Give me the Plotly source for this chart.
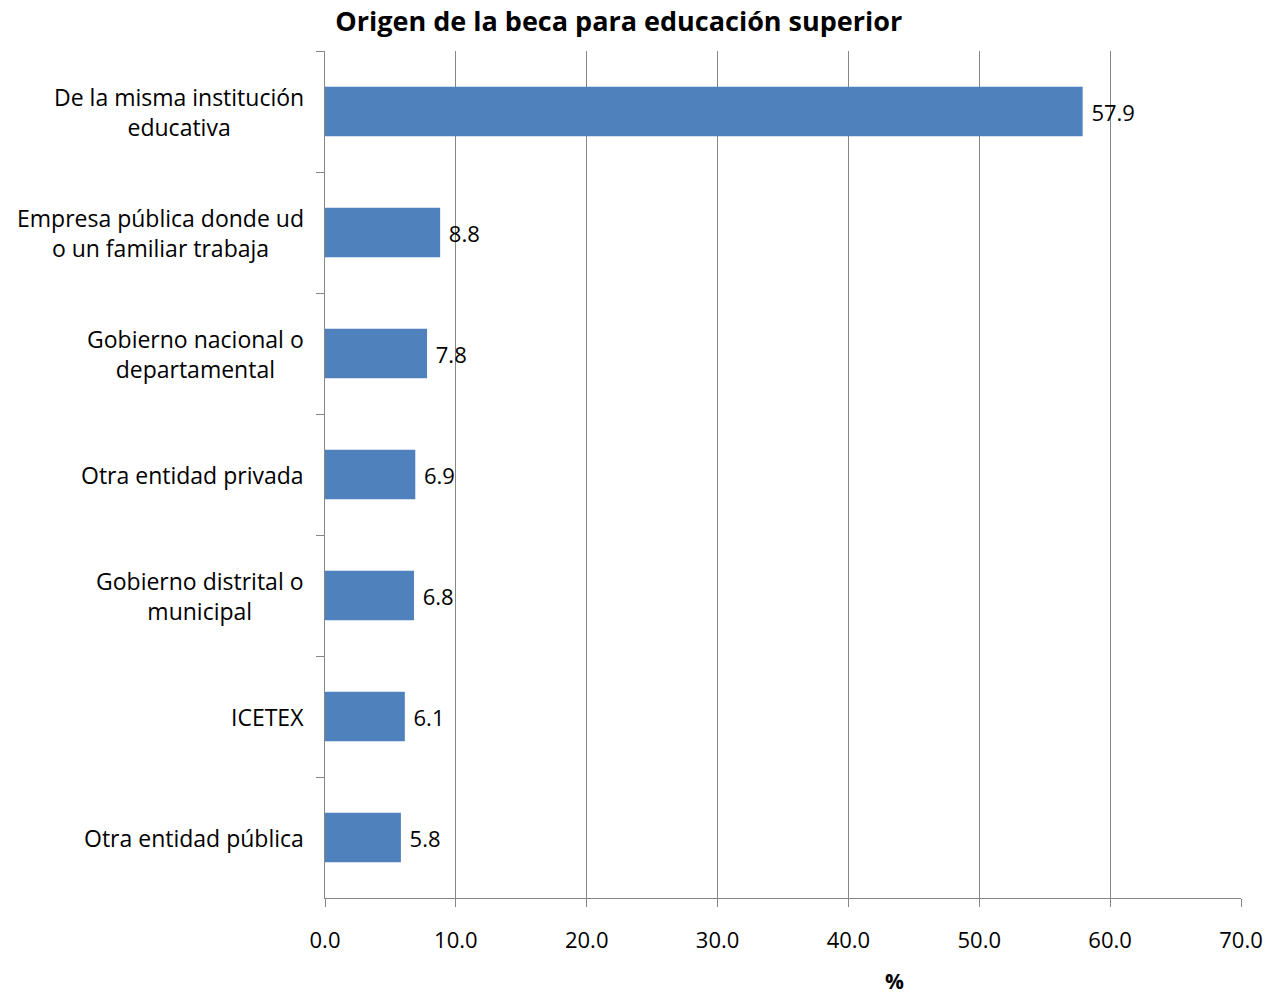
import plotly.graph_objects as go

categories = [
    "De la misma institución<br>educativa",
    "Empresa pública donde ud<br>o un familiar trabaja",
    "Gobierno nacional o<br>departamental",
    "Otra entidad privada",
    "Gobierno distrital o<br>municipal",
    "ICETEX",
    "Otra entidad pública",
]
values = [57.9, 8.8, 7.8, 6.9, 6.8, 6.1, 5.8]
x_ticks = [0, 10, 20, 30, 40, 50, 60, 70]

FONT = "'Open Sans', Lato, sans-serif"

fig = go.Figure(go.Bar(
    x=values,
    y=categories,
    orientation="h",
    marker=dict(color="#4F81BD", line=dict(width=0)),
    width=0.41,
    text=[f" {v:.1f}" for v in values],
    textposition="outside",
    textfont=dict(size=22, color="black", family=FONT),
    cliponaxis=False,
))

fig.update_layout(
    width=1268, height=994,
    paper_bgcolor="white", plot_bgcolor="white",
    margin=dict(l=325, r=27, t=51, b=96, autoexpand=False),
    showlegend=False,
    font=dict(family=FONT, color="black"),
    title=dict(text="<b>Origen de la beca para educación superior</b>",
               x=0.488, xref="container", xanchor="center",
               y=0.978, yref="container", yanchor="middle",
               font=dict(size=27, family=FONT, color="black")),
)

fig.update_xaxes(
    range=[0, 70], tickvals=x_ticks,
    ticktext=[f"{t:.1f}" for t in x_ticks],
    showgrid=True, gridcolor="#868686", gridwidth=1,
    showline=True, linecolor="#868686", linewidth=1,
    ticks="outside", ticklen=8, tickcolor="#868686",
    tickfont=dict(size=22, family=FONT, color="black"),
    ticklabelstandoff=15,
    zeroline=False, automargin=False,
)
fig.update_yaxes(
    categoryorder="array", categoryarray=categories,
    autorange="reversed",
    showline=True, linecolor="#868686", linewidth=1,
    ticks="outside", ticklen=8, tickcolor="#868686",
    tickson="boundaries",
    showticklabels=False, automargin=False,
)

# category labels as centred multi-line annotations
for c in categories:
    fig.add_annotation(text=c, x=-19 / 916, xref="paper", y=c, yref="y",
                       showarrow=False, align="center", xanchor="right",
                       yanchor="middle",
                       font=dict(size=23, family=FONT, color="black"))

fig.add_annotation(text="<b>%</b>", x=0.622, xref="paper", y=-98 / 847, yref="paper",
                   showarrow=False, font=dict(size=21, family=FONT, color="black"),
                   xanchor="center", yanchor="bottom", borderpad=0)

fig.write_html("out.html",
               config={"displayModeBar": False},
               post_script="document.body.style.margin='0';"
                           "document.body.style.overflow='hidden';")
